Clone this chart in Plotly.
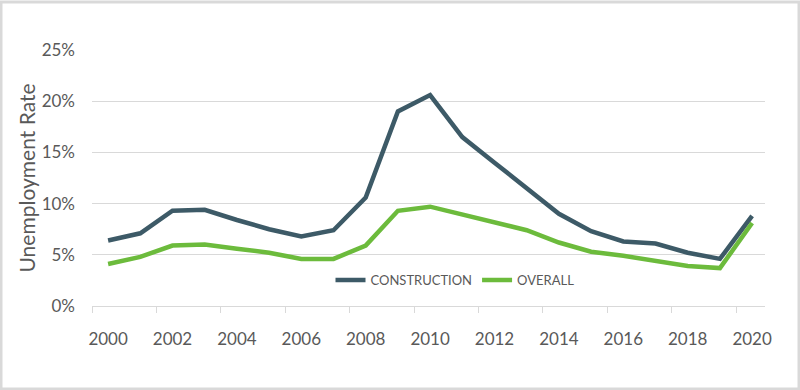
import plotly.graph_objects as go

years = list(range(2000, 2021))
construction = [6.4, 7.1, 9.3, 9.4, 8.4, 7.5, 6.8, 7.4, 10.6, 19.0, 20.6, 16.5, 14.0, 11.5, 9.0, 7.3, 6.3, 6.1, 5.2, 4.6, 8.8]
overall = [4.1, 4.8, 5.9, 6.0, 5.6, 5.2, 4.6, 4.6, 5.9, 9.3, 9.7, 8.9, 8.1, 7.4, 6.2, 5.3, 4.9, 4.4, 3.9, 3.7, 8.1]
x_tick_years = list(range(2000, 2021, 2))
y_ticks = [0, 5, 10, 15, 20, 25]
y_tick_labels = ["0%", "5%", "10%", "15%", "20%", "25%"]

C_CON = "#3D5A67"
C_ALL = "#6CBB3C"
TXT = "#595959"
GRID = "#D9D9D9"
FONT = "Lato"

fig = go.Figure()
fig.add_trace(go.Scatter(x=years, y=construction, mode="lines", name="CONSTRUCTION",
                         line=dict(color=C_CON, width=4.5)))
fig.add_trace(go.Scatter(x=years, y=overall, mode="lines", name="OVERALL",
                         line=dict(color=C_ALL, width=4.5)))

W, H = 800, 390
L, R, T, B = 92, 35, 50, 84
pw, ph = W - L - R, H - T - B

def px_x(p):
    return (p - L) / pw

def px_y(p):
    return (H - B - p) / ph

fig.add_shape(type="rect", xref="paper", yref="paper",
              x0=px_x(1), x1=px_x(799), y0=px_y(389), y1=px_y(2),
              line=dict(color=GRID, width=3), fillcolor="rgba(0,0,0,0)", layer="below")

fig.update_layout(
    width=W, height=H,
    margin=dict(l=L, r=R, t=T, b=B),
    paper_bgcolor="white", plot_bgcolor="white",
    font=dict(family=FONT, color=TXT, size=16),
    showlegend=True,
    legend=dict(orientation="h", x=px_x(455), y=px_y(280), xanchor="center", yanchor="middle",
                font=dict(size=13, color=TXT, family=FONT), bgcolor="rgba(0,0,0,0)",
                itemwidth=30, traceorder="normal"),
    xaxis=dict(range=[1999.5, 2020.4], tickmode="array", tickvals=x_tick_years,
               ticktext=[str(y) for y in x_tick_years], ticks="", showgrid=False,
               zeroline=False, showline=True, linecolor=GRID, linewidth=1,
               tickfont=dict(size=17, color=TXT), ticklabelstandoff=18,
               minor=dict(tickmode="array", tickvals=[1999.5 + 2 * i for i in range(11)],
                          ticks="outside", ticklen=6, tickcolor=GRID, tickwidth=1, showgrid=False)),
    yaxis=dict(range=[0, 25], tickmode="array", tickvals=y_ticks, ticktext=y_tick_labels,
               showgrid=True, gridcolor=GRID, gridwidth=1, zeroline=False, ticks="",
               tickfont=dict(size=17, color=TXT), ticklabelstandoff=16,
               title=dict(text="Unemployment Rate", font=dict(size=21, color=TXT), standoff=0)),
)

fig.write_html("out.html", config={"displayModeBar": False},
               post_script="document.body.style.margin='0';document.body.style.overflow='hidden';")
